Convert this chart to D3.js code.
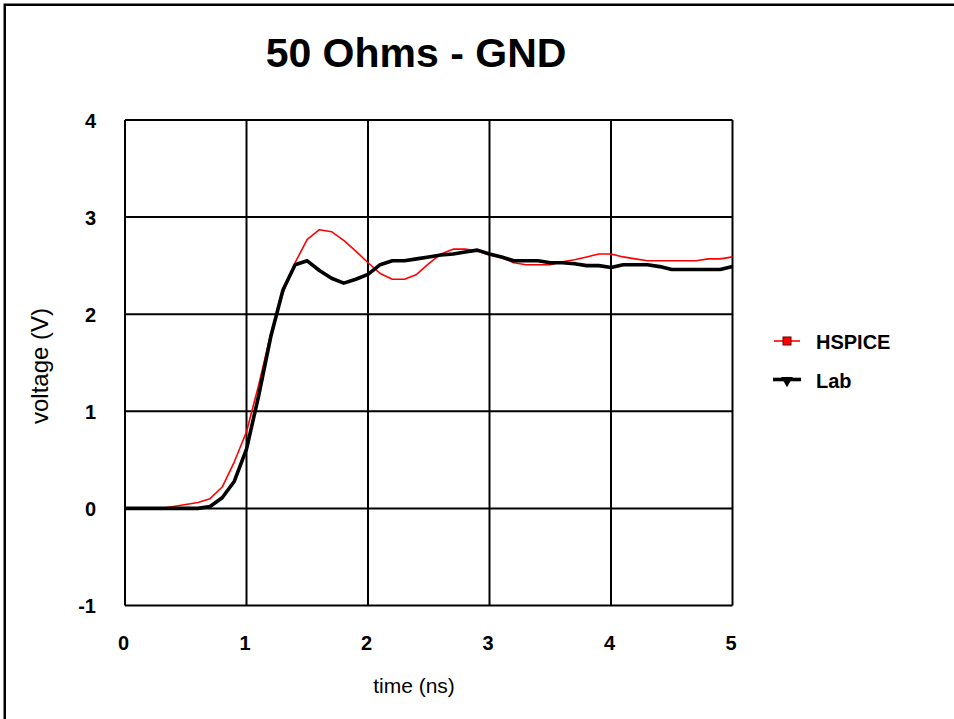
<!DOCTYPE html>
<html>
<head>
<meta charset="utf-8">
<script src="https://cdn.jsdelivr.net/npm/d3@7"></script>
<style>
body { margin: 0; background: #fff; }
svg { display: block; font-family: "Liberation Sans", Arial, sans-serif; }
</style>
</head>
<body>
<svg id="chart" width="954" height="719"></svg>
<script>
// time samples (ns)
var times = [0.0, 0.1, 0.2, 0.3, 0.4, 0.5, 0.6, 0.7, 0.8, 0.9,
             1.0, 1.1, 1.2, 1.3, 1.4, 1.5, 1.6, 1.7, 1.8, 1.9,
             2.0, 2.1, 2.2, 2.3, 2.4, 2.5, 2.6, 2.7, 2.8, 2.9,
             3.0, 3.1, 3.2, 3.3, 3.4, 3.5, 3.6, 3.7, 3.8, 3.9,
             4.0, 4.1, 4.2, 4.3, 4.4, 4.5, 4.6, 4.7, 4.8, 4.9, 5.0];

var hspice = [0, 0, 0, 0, 0.02, 0.04, 0.06, 0.10, 0.22, 0.48,
              0.79, 1.27, 1.80, 2.22, 2.53, 2.77, 2.87, 2.85, 2.76, 2.65,
              2.53, 2.42, 2.36, 2.36, 2.41, 2.52, 2.62, 2.67, 2.67, 2.65,
              2.61, 2.58, 2.53, 2.51, 2.51, 2.51, 2.54, 2.56, 2.59, 2.62,
              2.62, 2.59, 2.57, 2.55, 2.55, 2.55, 2.55, 2.55, 2.57, 2.57, 2.59];

var lab = [0, 0, 0, 0, 0, 0, 0, 0.02, 0.11, 0.28,
           0.61, 1.16, 1.77, 2.25, 2.51, 2.55, 2.45, 2.37, 2.32, 2.36,
           2.41, 2.51, 2.55, 2.55, 2.57, 2.59, 2.61, 2.62, 2.64, 2.66,
           2.62, 2.59, 2.55, 2.55, 2.55, 2.53, 2.53, 2.52, 2.50, 2.50,
           2.48, 2.51, 2.51, 2.51, 2.49, 2.46, 2.46, 2.46, 2.46, 2.46, 2.49];

var xTicks = [0, 1, 2, 3, 4, 5];
var yTicks = [-1, 0, 1, 2, 3, 4];
var seriesNames = ["HSPICE", "Lab"];

var svg = d3.select("#chart");

// outer frame (runs off the right/bottom edge like the original)
svg.append("rect")
    .attr("x", 4.75).attr("y", 4.75)
    .attr("width", 1200).attr("height", 1200)
    .attr("fill", "none").attr("stroke", "#000").attr("stroke-width", 2.5);

var x = d3.scaleLinear().domain([0, 5]).range([125, 732.5]);
var y = d3.scaleLinear().domain([-1, 4]).range([605.5, 120]);

var g = svg.append("g");

// grid
g.selectAll(".vgrid").data(xTicks).enter().append("line")
    .attr("x1", function(d){ return x(d); }).attr("x2", function(d){ return x(d); })
    .attr("y1", y(4)).attr("y2", y(-1))
    .attr("stroke", "#000").attr("stroke-width", 2);
g.selectAll(".hgrid").data(yTicks).enter().append("line")
    .attr("x1", x(0)).attr("x2", x(5))
    .attr("y1", function(d){ return y(d); }).attr("y2", function(d){ return y(d); })
    .attr("stroke", "#000").attr("stroke-width", 2);

// tick labels
g.selectAll(".xt").data(xTicks).enter().append("text")
    .attr("x", function(d){ return x(d) - 1.5; })
    .attr("y", 649.5)
    .attr("text-anchor", "middle")
    .attr("font-size", 20).attr("font-weight", "bold")
    .text(function(d){ return d; });
g.selectAll(".yt").data(yTicks).enter().append("text")
    .attr("x", 96)
    .attr("y", function(d){ return y(d) + 7.5; })
    .attr("text-anchor", "end")
    .attr("font-size", 20).attr("font-weight", "bold")
    .text(function(d){ return d; });

// lines
var line = function(vals){
    return d3.line()
        .x(function(d, i){ return x(times[i]); })
        .y(function(d){ return y(d); })(vals);
};
g.append("path").attr("d", line(hspice))
    .attr("fill", "none").attr("stroke", "#ff0000").attr("stroke-width", 1.6)
    .attr("stroke-linejoin", "round");
g.append("path").attr("d", line(lab))
    .attr("fill", "none").attr("stroke", "#000").attr("stroke-width", 3.6)
    .attr("stroke-linejoin", "round");

// title and axis labels
svg.append("text")
    .attr("x", 416).attr("y", 67)
    .attr("text-anchor", "middle")
    .attr("font-size", 41).attr("font-weight", "bold")
    .text("50 Ohms - GND");
svg.append("text")
    .attr("transform", "translate(48,366) rotate(-90)")
    .attr("text-anchor", "middle")
    .attr("font-size", 24)
    .text("voltage (V)");
svg.append("text")
    .attr("x", 414).attr("y", 693)
    .attr("text-anchor", "middle")
    .attr("font-size", 21)
    .text("time (ns)");

// legend
var leg = svg.append("g");
var ly = [341, 379.5];
leg.append("line").attr("x1", 774).attr("x2", 800).attr("y1", ly[0]).attr("y2", ly[0])
    .attr("stroke", "#ff0000").attr("stroke-width", 1.6);
leg.append("rect").attr("x", 783).attr("y", ly[0] - 4).attr("width", 8).attr("height", 8)
    .attr("fill", "#ff0000").attr("stroke", "#600").attr("stroke-width", 1);
leg.append("line").attr("x1", 773).attr("x2", 801).attr("y1", ly[1]).attr("y2", ly[1])
    .attr("stroke", "#000").attr("stroke-width", 3.6);
leg.append("path")
    .attr("d", d3.symbol().type(d3.symbolTriangle).size(60)())
    .attr("transform", "translate(787," + (ly[1] + 1) + ") rotate(180)")
    .attr("fill", "#000");
leg.selectAll(".lt").data(seriesNames).enter().append("text")
    .attr("x", 816)
    .attr("y", function(d, i){ return ly[i] + 8; })
    .attr("font-size", 20).attr("font-weight", "bold")
    .text(function(d){ return d; });
</script>
</body>
</html>
